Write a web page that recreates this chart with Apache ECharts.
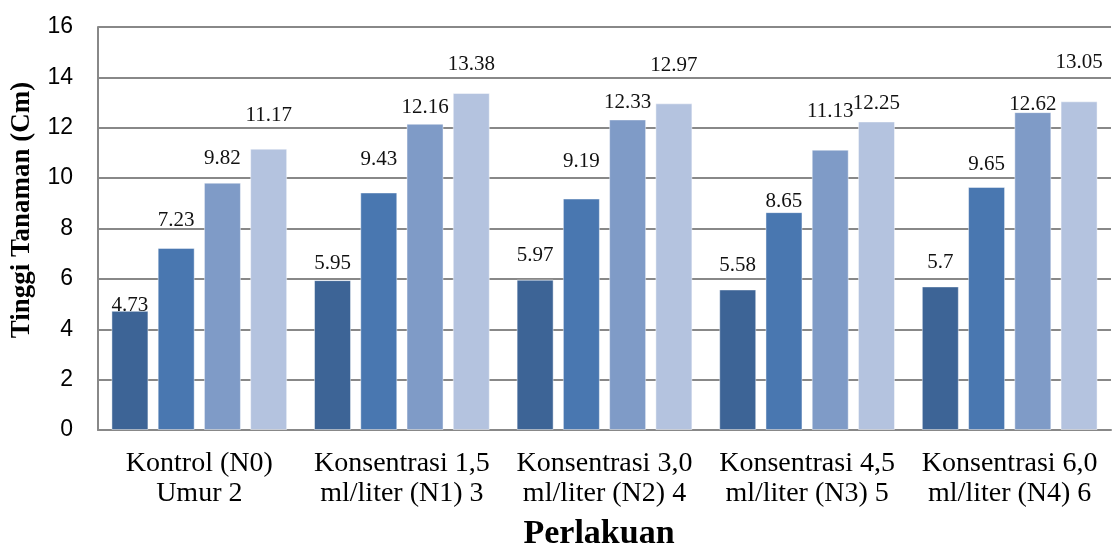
<!DOCTYPE html>
<html>
<head>
<meta charset="utf-8">
<script src="https://cdn.jsdelivr.net/npm/echarts@6/dist/echarts.min.js"></script>
<style>html,body{margin:0;padding:0;background:#fff;}#c{width:1113px;height:552px;}</style>
</head>
<body>
<div id="c"></div>
<script>
const categories = [
  'Kontrol (N0)\nUmur 2',
  'Konsentrasi 1,5\nml/liter (N1) 3',
  'Konsentrasi 3,0\nml/liter (N2) 4',
  'Konsentrasi 4,5\nml/liter (N3) 5',
  'Konsentrasi 6,0\nml/liter (N4) 6'
];
const seriesA = [4.73, 5.95, 5.97, 5.58, 5.7];
const seriesB = [7.23, 9.43, 9.19, 8.65, 9.65];
const seriesC = [9.82, 12.16, 12.33, 11.13, 12.62];
const seriesD = [11.17, 13.38, 12.97, 12.25, 13.05];
const yTicks = { min: 0, max: 16, interval: 2 };

// label styling (gap above each bar, px)
const gapA = [-5, 6, 14, 13, 13];
const gapB = [17, 22, 27, 0, 12];
const gapC = [14, 6, 6, 28, -3];
const gapD = [23, 18, 27, 7, 28];

const colors = ['#3D6496', '#4977B0', '#7F9BC7', '#B4C3DF'];
const serif = '"Liberation Serif", "Times New Roman", serif';

function mk(vals, gaps, color) {
  return {
    type: 'bar',
    barWidth: 37,
    barGap: '25%',
    itemStyle: { color: color, borderColor: 'rgba(255,255,255,0.45)', borderWidth: 1 },
    data: vals.map((v, i) => ({
      value: v,
      label: { distance: gaps[i] }
    })),
    label: {
      show: true,
      position: 'top',
      color: '#111',
      fontFamily: serif,
      fontSize: 21
    }
  };
}

const chart = echarts.init(document.getElementById('c'), null, { renderer: 'canvas' });
chart.setOption({
  animation: false,
  backgroundColor: '#fff',
  grid: { left: 98, right: 2, top: 27, bottom: 122, containLabel: false },
  xAxis: {
    type: 'category',
    data: categories,
    axisTick: { show: false },
    axisLine: { lineStyle: { color: '#888', width: 2 } },
    axisLabel: {
      interval: 0,
      color: '#000',
      fontFamily: serif,
      fontSize: 28,
      lineHeight: 30,
      margin: 19
    }
  },
  yAxis: {
    type: 'value',
    min: yTicks.min,
    max: yTicks.max,
    interval: yTicks.interval,
    axisLine: { show: true, lineStyle: { color: '#888', width: 2 } },
    axisTick: { show: false },
    splitLine: { lineStyle: { color: '#888', width: 2 } },
    axisLabel: {
      color: '#000',
      fontFamily: '"Liberation Sans", Arial, sans-serif',
      fontSize: 23,
      margin: 25
    }
  },
  graphic: [
    {
      type: 'text',
      x: 22, y: 210,
      rotation: Math.PI / 2,
      style: {
        text: 'Tinggi Tanaman (Cm)',
        textAlign: 'center',
        textVerticalAlign: 'middle',
        font: 'bold 27px ' + serif,
        fill: '#000'
      }
    },
    {
      type: 'text',
      x: 599, y: 534,
      style: {
        text: 'Perlakuan',
        textAlign: 'center',
        textVerticalAlign: 'middle',
        font: 'bold 34px ' + serif,
        fill: '#000'
      }
    }
  ],
  series: [
    mk(seriesA, gapA, colors[0]),
    mk(seriesB, gapB, colors[1]),
    mk(seriesC, gapC, colors[2]),
    mk(seriesD, gapD, colors[3])
  ]
});
</script>
</body>
</html>
